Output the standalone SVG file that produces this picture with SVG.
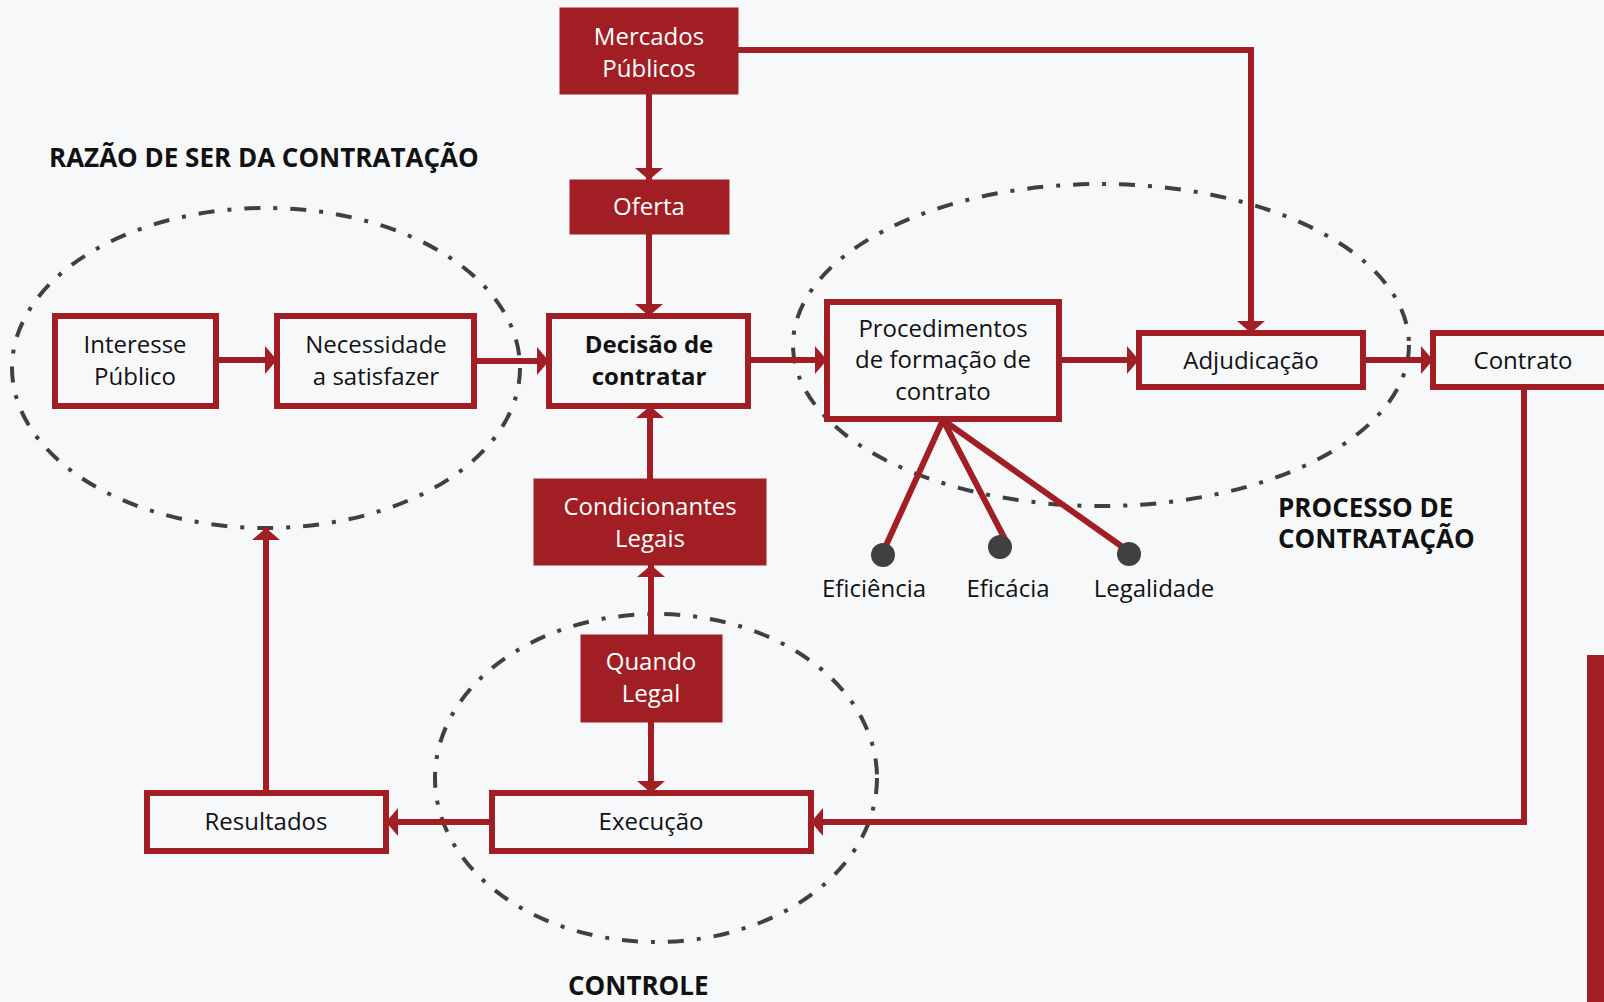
<svg xmlns="http://www.w3.org/2000/svg" width="1604" height="1002" viewBox="0 0 1604 1002">
<style>
.bg{fill:#f7f8fa}
.ell{fill:none;stroke:#404040;stroke-width:4;stroke-dasharray:16 13 4 13}
.box{fill:#f7f8fa;stroke:#a11f24;stroke-width:6}
.fbox{fill:#a11f24;stroke:#a11f24;stroke-width:1}
.t{font-family:"Open Sans","Noto Sans","Liberation Sans",sans-serif;font-size:24px;fill:#111;text-anchor:middle}
.w{fill:#ffffff}
.b{font-weight:bold}
.h{font-family:"Open Sans","Noto Sans","Liberation Sans",sans-serif;font-size:26px;font-weight:bold;fill:#111}
.c{fill:none;stroke:#a11f24;stroke-width:6}
.dot{fill:#404040}
</style>
<defs>
<marker id="ah" markerUnits="userSpaceOnUse" viewBox="0 0 12 28" refX="12" refY="14" markerWidth="12" markerHeight="28" orient="auto">
<path d="M0,0 L12,14 L0,28 Z" fill="#a11f24"/>
</marker>
</defs>
<rect class="bg" x="0" y="0" width="1604" height="1002"/>

<g id="groups">
<ellipse class="ell" cx="266" cy="368" rx="254" ry="160"/>
<ellipse class="ell" cx="1101" cy="345" rx="308" ry="161"/>
<ellipse class="ell" cx="656" cy="778" rx="221" ry="164"/>
</g>

<g id="labels">
<text class="h" x="49" y="167">RAZÃO DE SER DA CONTRATAÇÃO</text>
<text class="h" x="1278" y="517">PROCESSO DE<tspan x="1278" y="548">CONTRATAÇÃO</tspan></text>
<text class="h" x="568" y="995">CONTROLE</text>
</g>

<g id="connectors">
<line class="c" x1="649" y1="94" x2="649" y2="180" marker-end="url(#ah)"/>
<line class="c" x1="649" y1="234" x2="649" y2="316" marker-end="url(#ah)"/>
<polyline class="c" points="738,50 1251,50 1251,333" marker-end="url(#ah)"/>
<line class="c" x1="216" y1="360" x2="277" y2="360" marker-end="url(#ah)"/>
<line class="c" x1="474" y1="361" x2="549" y2="361" marker-end="url(#ah)"/>
<line class="c" x1="748" y1="360" x2="827" y2="360" marker-end="url(#ah)"/>
<line class="c" x1="1059" y1="360" x2="1139" y2="360" marker-end="url(#ah)"/>
<line class="c" x1="1363" y1="360" x2="1433" y2="360" marker-end="url(#ah)"/>
<line class="c" x1="650" y1="479" x2="650" y2="406" marker-end="url(#ah)"/>
<line class="c" x1="651" y1="635" x2="651" y2="565" marker-end="url(#ah)"/>
<line class="c" x1="651" y1="722" x2="651" y2="793" marker-end="url(#ah)"/>
<polyline class="c" points="1524,387 1524,822 811,822" marker-end="url(#ah)"/>
<line class="c" x1="492" y1="822" x2="386" y2="822" marker-end="url(#ah)"/>
<line class="c" x1="266" y1="793" x2="266" y2="528" marker-end="url(#ah)"/>
<line class="c" x1="943" y1="420" x2="883" y2="552"/>
<line class="c" x1="943" y1="420" x2="1008" y2="545"/>
<line class="c" x1="943" y1="420" x2="1124" y2="548"/>
</g>

<g id="mercados">
<rect class="fbox" x="560" y="8" width="178" height="86"/>
<text class="t w" x="649" y="45">Mercados</text>
<text class="t w" x="649" y="77">Públicos</text>
</g>
<g id="oferta">
<rect class="fbox" x="570" y="180" width="159" height="54"/>
<text class="t w" x="649" y="215">Oferta</text>
</g>
<g id="interesse">
<rect class="box" x="55" y="316" width="161" height="90"/>
<text class="t" x="135" y="353">Interesse</text>
<text class="t" x="135" y="385">Público</text>
</g>
<g id="necessidade">
<rect class="box" x="277" y="316" width="197" height="90"/>
<text class="t" x="376" y="353">Necessidade</text>
<text class="t" x="376" y="385">a satisfazer</text>
</g>
<g id="decisao">
<rect class="box" x="549" y="316" width="199" height="90"/>
<text class="t b" x="649" y="353">Decisão de</text>
<text class="t b" x="649" y="385">contratar</text>
</g>
<g id="condicionantes">
<rect class="fbox" x="534" y="479" width="232" height="86"/>
<text class="t w" x="650" y="515">Condicionantes</text>
<text class="t w" x="650" y="547">Legais</text>
</g>
<g id="quando">
<rect class="fbox" x="581" y="635" width="141" height="87"/>
<text class="t w" x="651" y="670">Quando</text>
<text class="t w" x="651" y="702">Legal</text>
</g>
<g id="execucao">
<rect class="box" x="492" y="793" width="319" height="58"/>
<text class="t" x="651" y="830">Execução</text>
</g>
<g id="resultados">
<rect class="box" x="147" y="793" width="239" height="58"/>
<text class="t" x="266" y="830">Resultados</text>
</g>
<g id="procedimentos">
<rect class="box" x="827" y="302" width="232" height="117"/>
<text class="t" x="943" y="337">Procedimentos</text>
<text class="t" x="943" y="368">de formação de</text>
<text class="t" x="943" y="400">contrato</text>
</g>
<g id="adjudicacao">
<rect class="box" x="1139" y="333" width="224" height="54"/>
<text class="t" x="1251" y="369">Adjudicação</text>
</g>
<g id="contrato">
<rect class="box" x="1433" y="333" width="200" height="54"/>
<text class="t" x="1523" y="369">Contrato</text>
</g>
<g id="eficiencia">
<circle class="dot" cx="883" cy="555" r="12"/>
<text class="t" x="874" y="597">Eficiência</text>
</g>
<g id="eficacia">
<circle class="dot" cx="1000" cy="547" r="12"/>
<text class="t" x="1008" y="597">Eficácia</text>
</g>
<g id="legalidade">
<circle class="dot" cx="1129" cy="554" r="12"/>
<text class="t" x="1154" y="597">Legalidade</text>
</g>
<rect id="sidebar" x="1587" y="655" width="17" height="347" fill="#a11f24"/>
</svg>
